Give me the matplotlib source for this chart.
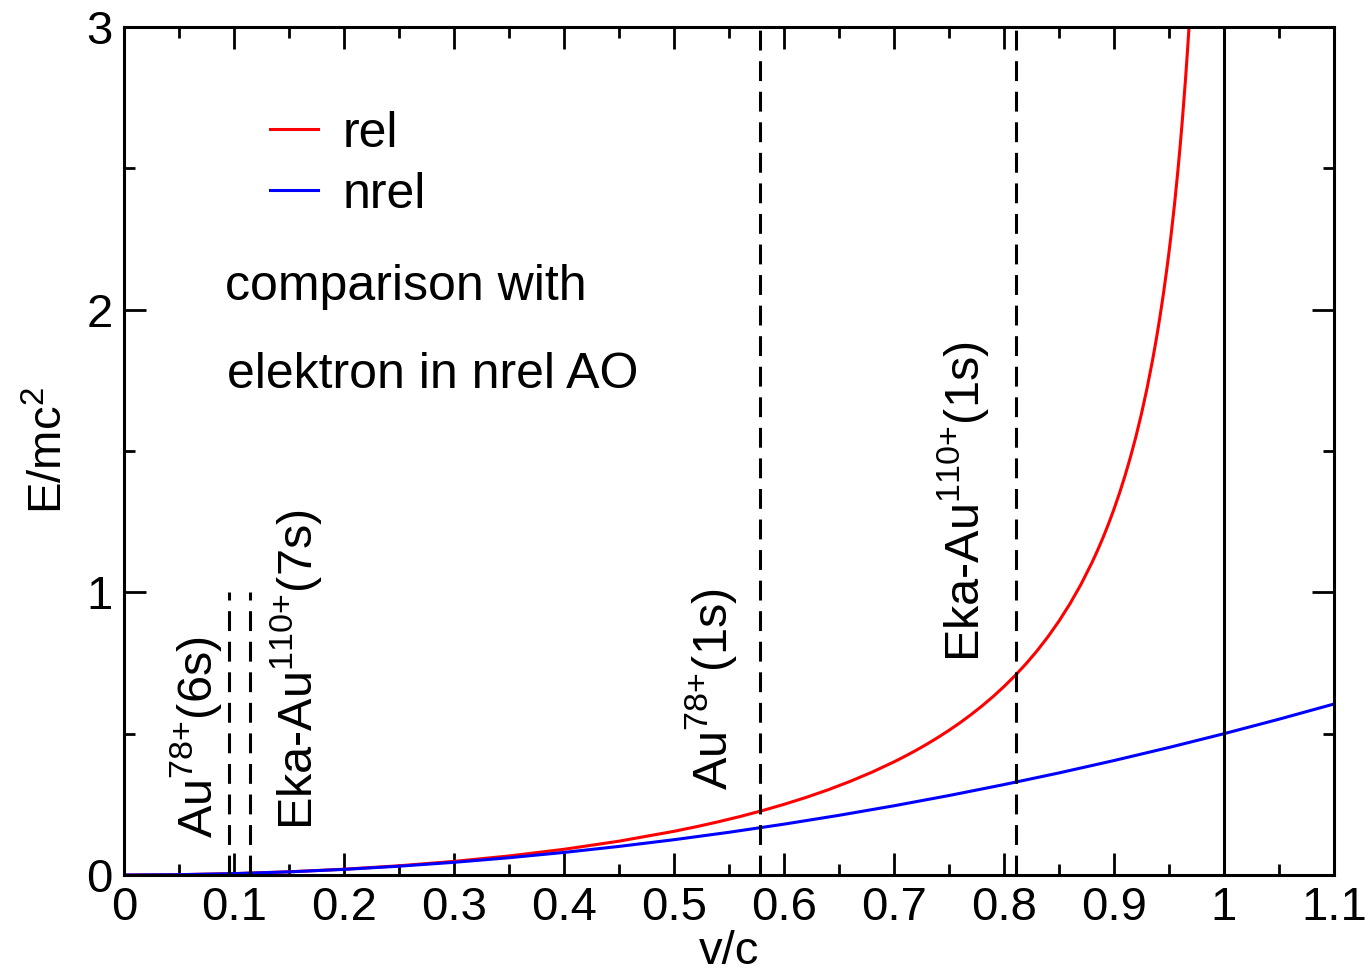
import matplotlib
matplotlib.use("Agg")
import matplotlib.pyplot as plt
from matplotlib.ticker import MultipleLocator

plt.rcParams['font.family'] = ['Liberation Sans', 'DejaVu Sans']
plt.rcParams['mathtext.fontset'] = 'custom'
plt.rcParams['mathtext.rm'] = 'Liberation Sans'
plt.rcParams['mathtext.it'] = 'Liberation Sans'
plt.rcParams['mathtext.bf'] = 'Liberation Sans'

# relativistic kinetic energy
v_rel = [0.0, 0.05, 0.10, 0.15, 0.20, 0.25, 0.30, 0.35, 0.40, 0.45, 0.50,
         0.52, 0.54, 0.56, 0.58, 0.60, 0.62, 0.64, 0.66, 0.68, 0.70, 0.71,
         0.72, 0.73, 0.74, 0.75, 0.76, 0.77, 0.78, 0.79, 0.80, 0.81, 0.82,
         0.83, 0.84, 0.85, 0.86, 0.87, 0.88, 0.885, 0.89, 0.895, 0.90,
         0.905, 0.91, 0.915, 0.92, 0.925, 0.93, 0.935, 0.938, 0.94, 0.942,
         0.945, 0.948, 0.95, 0.952, 0.955, 0.958, 0.96, 0.962, 0.965,
         0.967, 0.968, 0.97]
e_rel = [0.0, 0.0013, 0.0050, 0.0114, 0.0206, 0.0328, 0.0483, 0.0675, 0.0911,
         0.1198, 0.1547, 0.1707, 0.1881, 0.2070, 0.2276, 0.2500, 0.2745,
         0.3014, 0.3311, 0.3639, 0.4003, 0.4201, 0.4410, 0.4632, 0.4868,
         0.5119, 0.5386, 0.5673, 0.5980, 0.6310, 0.6667, 0.7053, 0.7471,
         0.7928, 0.8430, 0.8983, 0.9597, 1.0281, 1.1054, 1.1478, 1.1931,
         1.2418, 1.2942, 1.3507, 1.4119, 1.4786, 1.5515, 1.6318, 1.7206,
         1.8197, 1.8849, 1.9311, 1.9796, 2.057, 2.142, 2.2025, 2.267,
         2.371, 2.4872, 2.5714, 2.6623, 2.813, 2.925, 2.985, 3.1134]

# non-relativistic
v_nrel = [0.0, 0.05, 0.10, 0.15, 0.20, 0.25, 0.30, 0.35, 0.40, 0.45, 0.50,
          0.55, 0.60, 0.65, 0.70, 0.75, 0.80, 0.85, 0.90, 0.95, 1.00, 1.05, 1.10]
e_nrel = [0.0, 0.00125, 0.005, 0.01125, 0.02, 0.03125, 0.045, 0.06125, 0.08,
          0.10125, 0.125, 0.15125, 0.18, 0.21125, 0.245, 0.28125, 0.32,
          0.36125, 0.405, 0.45125, 0.5, 0.55125, 0.605]

# marker lines (v/c of the orbitals) and their labels
short_lines = [0.0955, 0.1145]
long_lines = [0.578, 0.811]
labels = ["Au$^{78{+}}$(6s)", "Eka-Au$^{110{+}}$(7s)",
          "Au$^{78{+}}$(1s)", "Eka-Au$^{110{+}}$(1s)"]
label_x = [0.040, 0.131, 0.508, 0.737]
label_y = [0.13, 0.16, 0.30, 0.753]

fig = plt.figure(figsize=(13.69, 9.74), dpi=100)
ax = fig.add_axes([0.0906, 0.1016, 0.8838, 0.8707])

ax.plot(v_rel, e_rel, color='#ff0000', lw=2.2, label='rel')
ax.plot(v_nrel, e_nrel, color='#0000ff', lw=2.2, label='nrel')

for x in short_lines:
    ax.plot([x, x], [0, 1], color='black', lw=2.2, dashes=(6.5, 3.5))
for x in long_lines:
    ax.plot([x, x], [0, 3], color='black', lw=2.2, dashes=(6.5, 3.5))
ax.plot([1, 1], [0, 3], color='black', lw=2.2)

for t, x, y in zip(labels, label_x, label_y):
    ax.text(x, y, t, rotation=90, fontsize=35, ha='left', va='bottom')

ax.text(0.092, 2.034, "comparison with", fontsize=36, va='baseline')
ax.text(0.094, 1.723, "elektron in nrel AO", fontsize=36, va='baseline')

ax.legend(loc='upper left', bbox_to_anchor=(0.1207, 0.901), frameon=False,
          fontsize=36, handlelength=0.96, handletextpad=0.5, labelspacing=0.3,
          borderpad=0, borderaxespad=0)

ax.set_xlim(0, 1.1)
ax.set_ylim(0, 3)
ax.xaxis.set_minor_locator(MultipleLocator(0.05))
ax.yaxis.set_minor_locator(MultipleLocator(0.5))
ax.set_xticks([0, 0.1, 0.2, 0.3, 0.4, 0.5, 0.6, 0.7, 0.8, 0.9, 1.0, 1.1])
ax.set_xticklabels(["0", "0.1", "0.2", "0.3", "0.4", "0.5", "0.6", "0.7",
                    "0.8", "0.9", "1", "1.1"])
ax.set_yticks([0, 1, 2, 3])
ax.set_yticklabels(["0", "1", "2", "3"])
ax.tick_params(which='both', direction='in', top=True, right=True,
               width=2, labelsize=34)
ax.tick_params(which='major', length=16, pad=8)
ax.tick_params(which='minor', length=8)
for s in ax.spines.values():
    s.set_linewidth(2.2)

ax.set_xlabel("v/c", fontsize=34, labelpad=0)
ax.set_ylabel("E/mc$^2$", fontsize=34, labelpad=10)

fig.savefig("out.png", dpi=100)
